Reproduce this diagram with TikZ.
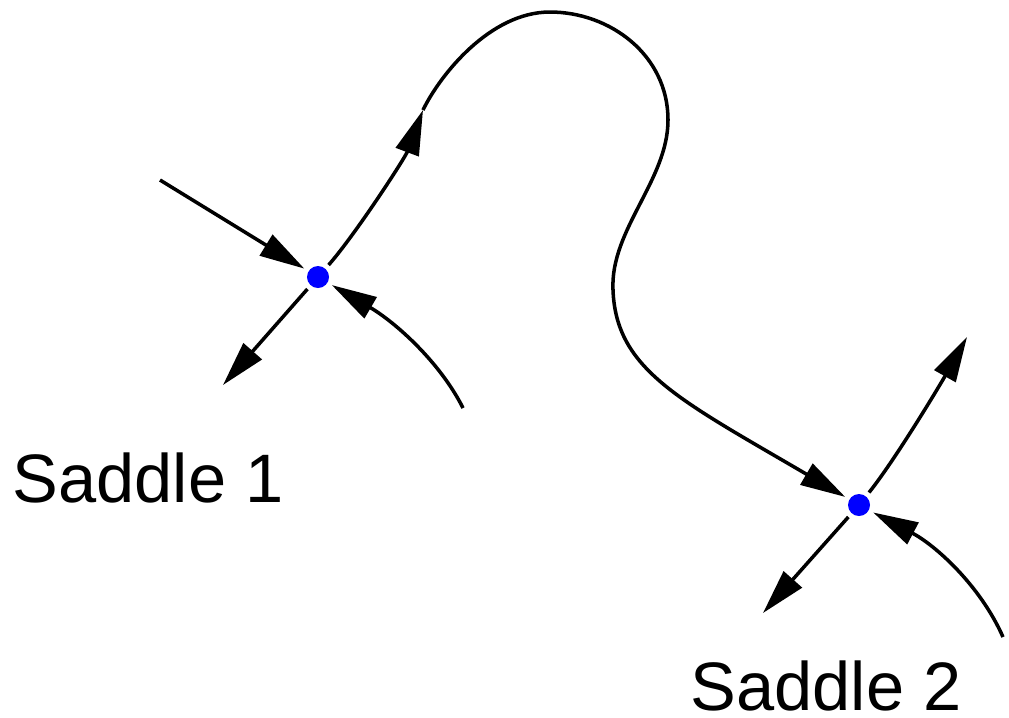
\documentclass[tikz,border=0pt]{standalone}
\usepackage{fontspec}
\setmainfont{Liberation Sans}
\usepackage{tikz}
\usetikzlibrary{arrows.meta, positioning, calc}

\tikzset{
    saddle/.style={circle, fill=blue, inner sep=0pt, minimum size=0.22cm, outer sep=0.05cm},
    flow/.style={line width=1pt, -{Triangle[length=4.5mm, width=2.4mm]}},
    plain/.style={line width=1pt},
    label/.style={anchor=base west, inner sep=0pt, text depth=0pt, font=\fontsize{19.5}{23}\selectfont}
}

\begin{document}
\begin{tikzpicture}[x=0.01cm, y=-0.01cm]
    \useasboundingbox (0,0) rectangle (1009,717);

    % Saddle 1
    \node[saddle] (s1) at (318,277) {};
    \coordinate (s1nw) at (160,180);
    \coordinate (s1sw) at (223,385);
    \coordinate (s1se) at (463,408);
    \coordinate (s1ne) at (423,110);
    \draw[flow] (s1nw) -- (s1);
    \draw[flow] (s1) -- (s1sw);
    \draw[flow] (s1se) .. controls (440,362) and (395,322) .. (s1);
    \draw[flow] (s1) .. controls (355,235) and (405,158) .. (s1ne);
    \node[label] (lab1) at (12,502) {Saddle 1};

    % Saddle 2
    \node[saddle] (s2) at (859,505) {};
    \coordinate (s2sw) at (763,613);
    \coordinate (s2se) at (1003,637);
    \coordinate (s2ne) at (967,337);
    \draw[flow] (s2) -- (s2sw);
    \draw[flow] (s2se) .. controls (980,585) and (935,545) .. (s2);
    \draw[flow] (s2) .. controls (895,460) and (940,385) .. (s2ne);
    \node[label] (lab2) at (690,710) {Saddle 2};

    % Connection from saddle 1 to saddle 2
    \coordinate (top) at (550,12);
    \coordinate (bend) at (668,120);
    \coordinate (waist) at (613,290);
    \draw[plain] (s1ne) .. controls (440,75) and (490,12) .. (top)
        .. controls (610,12) and (668,55) .. (bend)
        .. controls (668,180) and (610,230) .. (waist);
    \draw[flow] (waist) .. controls (616,370) and (680,400) .. (s2);
\end{tikzpicture}
\end{document}
